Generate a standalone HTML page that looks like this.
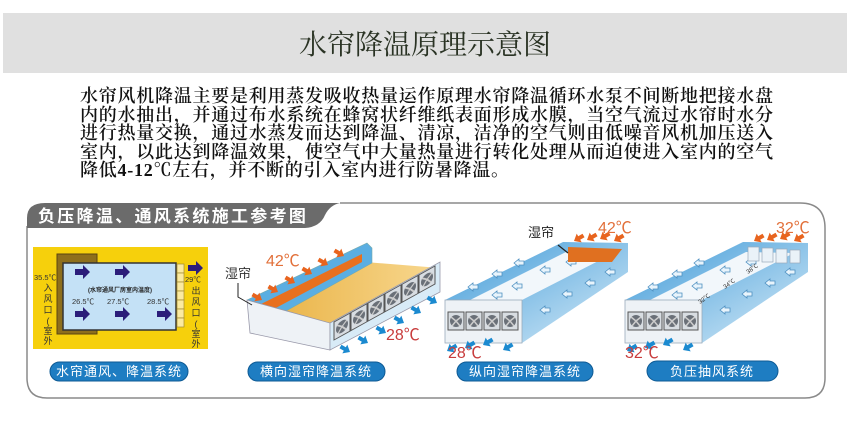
<!DOCTYPE html>
<html><head><meta charset="utf-8"><style>
html,body{margin:0;padding:0;background:#fff;width:850px;height:425px;overflow:hidden}
.hdr{position:absolute;left:3px;top:13px;width:844px;height:60px;background:#e0e0e0}
.ttl{position:absolute;left:0;top:13px;width:850px;height:60px;line-height:60px;text-align:center;font-family:"Noto Serif CJK SC","Liberation Serif",serif;font-size:28px;color:#2a3324;letter-spacing:0px}
.txt{position:absolute;left:80px;top:87px;width:720px;font-family:"Liberation Serif","Noto Serif CJK SC",serif;font-size:18px;line-height:18.6px;letter-spacing:0.75px;color:#111;white-space:nowrap;font-weight:600}
svg{position:absolute;left:0;top:0}
</style></head><body>
<div class="hdr"></div>
<div class="ttl">水帘降温原理示意图</div>
<div class="txt">水帘风机降温主要是利用蒸发吸收热量运作原理水帘降温循环水泵不间断地把接水盘<br>内的水抽出，并通过布水系统在蜂窝状纤维纸表面形成水膜，当空气流过水帘时水分<br>进行热量交换，通过水蒸发而达到降温、清凉，洁净的空气则由低噪音风机加压送入<br>室内，以此达到降温效果，使空气中大量热量进行转化处理从而迫使进入室内的空气<br>降低4-12℃左右，并不断的引入室内进行防暑降温。</div>
<svg width="850" height="425" viewBox="0 0 850 425" font-family="Liberation Sans,Noto Sans CJK SC,sans-serif">
<defs>
<linearGradient id="bl" x1="0" y1="0" x2="1" y2="1"><stop offset="0" stop-color="#3f9ad8"/><stop offset="1" stop-color="#d8ecf8"/></linearGradient>
<linearGradient id="yl" x1="0" y1="0" x2="1" y2="0"><stop offset="0" stop-color="#e8b040"/><stop offset="1" stop-color="#f8d890"/></linearGradient>
<g id="fan"><rect x="0" y="0" width="16" height="18" fill="#d8dde2" stroke="#555" stroke-width="1"/><circle cx="8" cy="9" r="6" fill="#6a7078"/><path d="M8 9 L3 5 M8 9 L13 5 M8 9 L4 14 M8 9 L12 14" stroke="#ccc" stroke-width="1.5"/></g>
<g id="oa"><path d="M0 0 L6 -5 L6 -2 L11 -2 L11 2 L6 2 L6 5 Z" fill="#e8641e"/></g>
<g id="ba"><path d="M0 0 L6 -5 L6 -2 L11 -2 L11 2 L6 2 L6 5 Z" fill="#1b8ad0"/></g>
<g id="wa"><path d="M0 0 L5 -4 L5 -2 L10 -2 L10 2 L5 2 L5 4 Z" fill="#e8f4fc" stroke="#4d8fc0" stroke-width="0.8"/></g>
<g id="na"><path d="M0 -3 L8 -3 L8 -7 L15 0 L8 7 L8 3 L0 3 Z" fill="#2b1d7a"/></g>
</defs>
<path d="M340 203 L800 203 Q825 203 825 228 L825 378 Q825 398 805 398 L47 398 Q27 398 27 378 L27 226" fill="none" stroke="#8a8a8a" stroke-width="1.5"/>
<path d="M27 228 L27 218 Q27 203 45 203 L340 203 Q330 205 325 215 Q320 227 305 228 Z" fill="#6b6b6b"/>
<text x="38" y="222" font-size="17" font-weight="bold" fill="#fff" letter-spacing="2.3">负压降温、通风系统施工参考图</text>

<rect x="33" y="247" width="175" height="102" fill="#f6d00c"/>
<rect x="57" y="254" width="40" height="80" fill="#8e6f1c" stroke="#5a4410"/>
<rect x="63" y="263" width="113" height="67" fill="#c4e1f6" stroke="#333" stroke-width="1.5"/>
<g fill="#fbeaa0" stroke="#a08a30" stroke-width="0.7">
<rect x="177" y="264" width="7" height="9"/><rect x="177" y="273" width="7" height="9"/><rect x="177" y="282" width="7" height="9"/><rect x="177" y="291" width="7" height="9"/><rect x="177" y="300" width="7" height="9"/><rect x="177" y="309" width="7" height="9"/><rect x="177" y="318" width="7" height="9"/></g>
<use href="#na" x="75" y="272"/><use href="#na" x="115" y="272"/><use href="#na" x="75" y="314"/><use href="#na" x="115" y="314"/><use href="#na" x="157" y="314"/><use href="#na" x="188" y="268"/>
<text x="120" y="292" font-size="6" font-weight="bold" text-anchor="middle" fill="#222">(水帘通风厂房室内温度)</text>
<g font-size="7.5" fill="#333"><text x="72" y="304">26.5℃</text><text x="107" y="304">27.5℃</text><text x="147" y="304">28.5℃</text>
<text x="34" y="280">35.5℃</text><text x="185" y="282">29℃</text></g>
<g font-size="9" fill="#333" text-anchor="middle"><text x="48" y="291">入</text><text x="48" y="302">风</text><text x="48" y="313">口</text><text x="48" y="324">(</text><text x="48" y="334">室</text><text x="48" y="344">外</text>
<text x="196" y="294">出</text><text x="196" y="305">风</text><text x="196" y="316">口</text><text x="196" y="327">(</text><text x="196" y="337">室</text><text x="196" y="347">外</text></g>

<polygon points="255,325 365,262 440,268 330,330" fill="url(#yl)"/>
<polygon points="247,300 367,243 372,248 372,263 252,330" fill="#5aaee2" stroke="#7aa" stroke-width="0.6"/>
<polygon points="257,318 362,262 362,254 257,306" fill="#e8701e"/>
<polygon points="247,300 330,323 330,350 250,333" fill="#eef2f6" stroke="#99a" stroke-width="0.8"/>
<polygon points="330,323 440,262 440,292 330,350" fill="#d8ebf7" stroke="#99a" stroke-width="0.8"/>
<g transform="translate(334,322) skewY(-29)"><use href="#fan" x="0" y="0"/><use href="#fan" x="17" y="0"/><use href="#fan" x="34" y="0"/><use href="#fan" x="51" y="0"/><use href="#fan" x="68" y="0"/><use href="#fan" x="85" y="0"/></g>
<g><use href="#oa" transform="translate(262,300) rotate(-150)"/><use href="#oa" transform="translate(278,292) rotate(-150)"/><use href="#oa" transform="translate(295,283) rotate(-150)"/><use href="#oa" transform="translate(312,274) rotate(-150)"/><use href="#oa" transform="translate(328,265) rotate(-150)"/><use href="#oa" transform="translate(344,256) rotate(-150)"/></g>
<g><use href="#ba" transform="translate(350,352) rotate(210)"/><use href="#ba" transform="translate(368,343) rotate(210)"/><use href="#ba" transform="translate(386,333) rotate(210)"/><use href="#ba" transform="translate(404,323) rotate(210)"/><use href="#ba" transform="translate(421,313) rotate(210)"/><use href="#ba" transform="translate(437,303) rotate(210)"/></g>
<text x="225" y="278" font-size="13" fill="#333">湿帘</text>
<path d="M238 283 L238 297 L252 305" fill="none" stroke="#222" stroke-width="1"/>
<text x="266" y="266" font-size="16" fill="#e2703a">42℃</text>
<text x="386" y="340" font-size="16" fill="#c83c3c">28℃</text>

<g id="p3">
<polygon points="445,300 563,242 628,243 628,272 522,343 445,343" fill="url(#bl)"/>
<polygon points="470,300 566,252 614,253 522,300" fill="#f2f7fb"/>
<rect x="445" y="300" width="77" height="43" fill="#eef2f6" stroke="#9ab" stroke-width="0.8"/>
<use href="#fan" x="448" y="312"/><use href="#fan" x="466" y="312"/><use href="#fan" x="484" y="312"/><use href="#fan" x="502" y="312"/>
<g><use href="#wa" x="468" y="287"/><use href="#wa" x="492" y="274"/><use href="#wa" x="514" y="263"/><use href="#wa" x="492" y="295"/><use href="#wa" x="512" y="286"/><use href="#wa" x="540" y="270"/><use href="#wa" x="566" y="262"/><use href="#wa" x="540" y="310"/><use href="#wa" x="562" y="294"/><use href="#wa" x="585" y="283"/><use href="#wa" x="605" y="272"/></g>
<g><use href="#ba" transform="translate(447,351) rotate(-30)"/><use href="#ba" transform="translate(465,348) rotate(-30)"/><use href="#ba" transform="translate(483,345) rotate(-30)"/><use href="#ba" transform="translate(503,350) rotate(-30)"/></g>
<g><use href="#oa" transform="translate(574,241) rotate(-30)"/><use href="#oa" transform="translate(587,240) rotate(-30)"/><use href="#oa" transform="translate(600,239) rotate(-30)"/><use href="#oa" transform="translate(614,241) rotate(-30)"/></g>
</g>
<polygon points="568,247 622,249 612,262 568,262" fill="#e07020"/>
<text x="528" y="237" font-size="13" fill="#222">湿帘</text>
<path d="M558 245 L568 253" stroke="#222" stroke-width="1.2"/>
<text x="598" y="233" font-size="16" fill="#e2703a">42℃</text>
<text x="448" y="358" font-size="16" fill="#c83c3c">28℃</text>

<use href="#p3" x="180" y="0"/>
<g fill="#eaf2f8" stroke="#9ab" stroke-width="0.7"><rect x="748" y="247" width="11" height="14"/><rect x="762" y="248" width="11" height="14"/><rect x="776" y="249" width="11" height="14"/><rect x="790" y="250" width="10" height="13"/></g>
<g font-size="6" fill="#333"><text transform="translate(700,304) rotate(-35)">32℃</text><text transform="translate(725,289) rotate(-35)">34℃</text><text transform="translate(748,274) rotate(-35)">38℃</text></g>
<text x="776" y="233" font-size="16" fill="#e2703a">32℃</text>
<text x="625" y="358" font-size="16" fill="#c83c3c">32℃</text>

<g fill="#1e7dc2" stroke="#0e5a94" stroke-width="1"><rect x="50" y="362" width="138" height="19" rx="9.5"/><rect x="248" y="362" width="137" height="19" rx="9.5"/><rect x="457" y="362" width="136" height="19" rx="9.5"/><rect x="647" y="361" width="131" height="20" rx="10"/></g>
<g font-size="13" fill="#fff" text-anchor="middle" letter-spacing="1"><text x="119" y="376">水帘通风、降温系统</text><text x="316" y="376">横向湿帘降温系统</text><text x="525" y="376">纵向湿帘降温系统</text><text x="712" y="376">负压抽风系统</text></g>
</svg>
</body></html>
